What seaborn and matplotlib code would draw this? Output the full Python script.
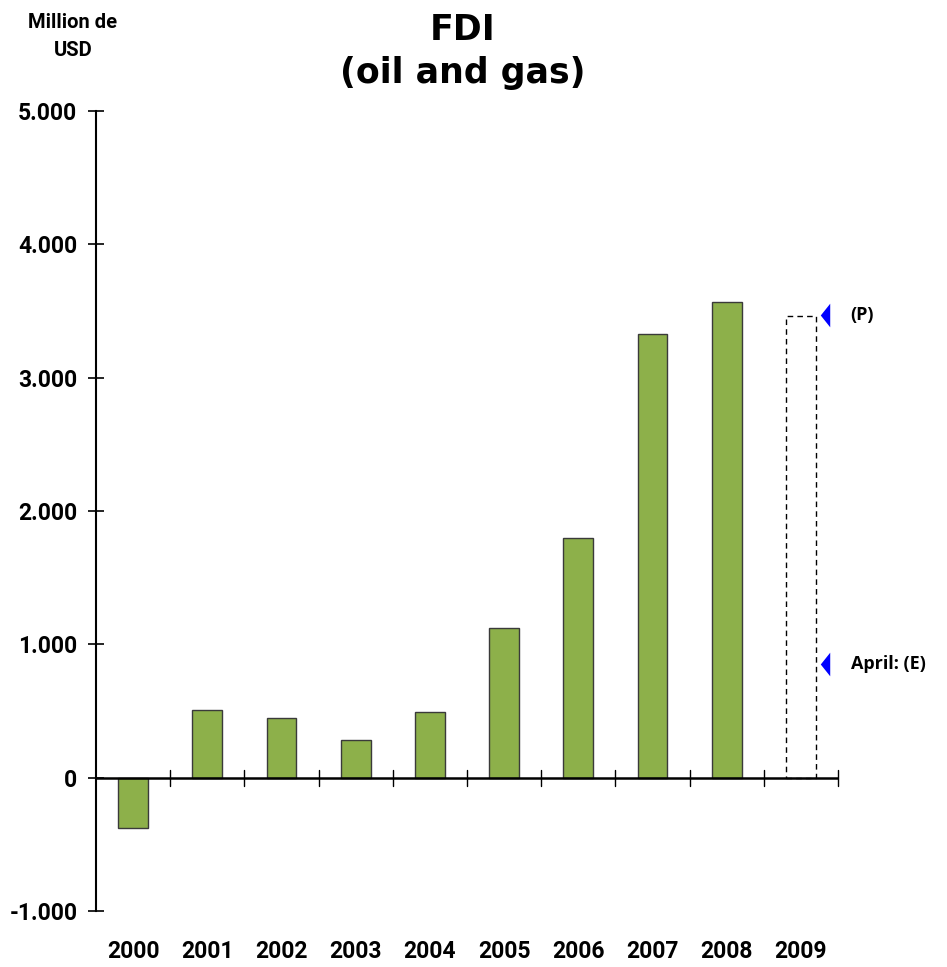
import matplotlib
matplotlib.use("Agg")
import matplotlib.pyplot as plt
import seaborn as sns
import pandas as pd
from matplotlib import font_manager as fm

years = ["2000", "2001", "2002", "2003", "2004", "2005", "2006", "2007", "2008", "2009"]
fdi = [-380, 510, 450, 280, 490, 1125, 1795, 3325, 3570, 3465]
marker_labels = ["(P)", "April: (E)"]
marker_values = [3470, 850]
yticks = [-1000, 0, 1000, 2000, 3000, 4000, 5000]
ytick_labels = ["-1.000", "0", "1.000", "2.000", "3.000", "4.000", "5.000"]

sns.set_theme(style="white")

names = {f.name for f in fm.fontManager.ttflist}
narrow = "Liberation Sans Narrow" if "Liberation Sans Narrow" in names else "Roboto"

df = pd.DataFrame({"year": years, "fdi": fdi})

fig = plt.figure(figsize=(9.47, 9.67), dpi=100)
ax = fig.add_axes([96/947, 1-911/967, (838-96)/947, (911-111)/967])

sns.barplot(data=df, x="year", y="fdi", width=0.4, color="#8DB04A",
            saturation=1, edgecolor="#3a3a3a", linewidth=1.0, ax=ax)
last = ax.patches[-1]
last.set_facecolor("white")
last.set_edgecolor("black")
last.set_linestyle((0, (4, 3)))
last.set_linewidth(1.0)

ax.set_xlim(-0.5, 9.5)
ax.set_ylim(-1000, 5000)
ax.set_xlabel("")
ax.set_ylabel("")

for s in ["top", "right", "bottom"]:
    ax.spines[s].set_visible(False)
ax.spines["left"].set_color("black")
ax.spines["left"].set_linewidth(1.5)

# zero axis line with category-boundary ticks
ax.axhline(0, color="black", lw=1.8, zorder=3)
for b in [i - 0.5 for i in range(1, 11)]:
    ax.plot([b, b], [-60, 60], color="black", lw=1.0, zorder=3, clip_on=False)

ax.set_xticks(range(len(years)))
ax.set_xticklabels(years)
ax.tick_params(axis="x", length=0, pad=21)
ax.set_yticks(yticks)
ax.set_yticklabels(ytick_labels)
ax.tick_params(axis="y", direction="inout", length=11, width=1.2, color="black", pad=8, left=True)

for lab in ax.get_xticklabels() + ax.get_yticklabels():
    lab.set_fontfamily(narrow)
    lab.set_fontweight("bold")
    lab.set_fontsize(16.5)
    lab.set_color("black")

# markers (narrow left-pointing triangles)
tri = [(-0.4, 0), (0.4, 1), (0.4, -1)]
for lab, v in zip(marker_labels, marker_values):
    ax.plot([9.33], [v], marker=tri, markersize=17, color="#0000ff",
            markeredgewidth=0, clip_on=False, zorder=5)
    ax.text(9.67, v, lab, ha="left", va="center", fontsize=13, fontweight="bold",
            family="Open Sans", color="black", clip_on=False)

fig.text(463/947, 1-30/967, "FDI", ha="center", va="center", fontsize=25,
         fontweight="bold", family="DejaVu Sans", color="black")
fig.text(463/947, 1-73/967, "(oil and gas)", ha="center", va="center", fontsize=25,
         fontweight="bold", family="DejaVu Sans", color="black")
fig.text(73/947, 1-22/967, "Million de", ha="center", va="center", fontsize=14.5,
         fontweight="bold", family=narrow, color="black")
fig.text(73/947, 1-50/967, "USD", ha="center", va="center", fontsize=14.5,
         fontweight="bold", family=narrow, color="black")

fig.savefig("out.png", dpi=100, facecolor="white")
